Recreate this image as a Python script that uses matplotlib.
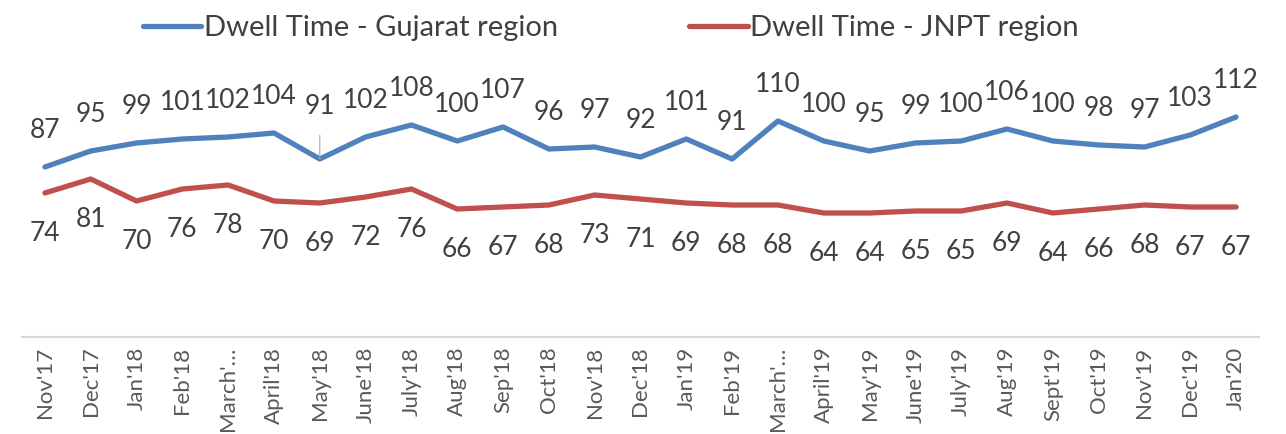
import matplotlib
matplotlib.use("Agg")
import matplotlib.pyplot as plt
import numpy as np

plt.rcParams["font.family"] = ["Lato", "DejaVu Sans"]

months = ["Nov'17", "Dec'17", "Jan'18", "Feb'18", "March'…", "April'18", "May'18",
          "June'18", "July'18", "Aug'18", "Sep'18", "Oct'18", "Nov'18", "Dec'18",
          "Jan'19", "Feb'19", "March'…", "April'19", "May'19", "June'19", "July'19",
          "Aug'19", "Sept'19", "Oct'19", "Nov'19", "Dec'19", "Jan'20"]
gujarat = [87, 95, 99, 101, 102, 104, 91, 102, 108, 100, 107, 96, 97, 92,
           101, 91, 110, 100, 95, 99, 100, 106, 100, 98, 97, 103, 112]
jnpt = [74, 81, 70, 76, 78, 70, 69, 72, 76, 66, 67, 68, 73, 71,
        69, 68, 68, 64, 64, 65, 65, 69, 64, 66, 68, 67, 67]

BLUE = "#4F81BD"
RED = "#C0504D"
TXT = "#404040"

fig = plt.figure(figsize=(12.86, 4.34), dpi=100)
ax = fig.add_axes([22 / 1286, 97 / 434, 1237 / 1286, 280 / 434])

x = np.arange(len(months))
ax.plot(x, gujarat, color=BLUE, lw=3.8, solid_capstyle="round",
        label="Dwell Time - Gujarat region")
ax.plot(x, jnpt, color=RED, lw=3.8, solid_capstyle="round",
        label="Dwell Time - JNPT region")

# data labels; the May'18 label sits higher with a leader line, as in the source
for i, (xi, v) in enumerate(zip(x, gujarat)):
    if months[i] == "May'18":
        ax.annotate(str(v), (xi, v), xytext=(0, 38), textcoords="offset points",
                    ha="center", va="center", fontsize=19, color=TXT,
                    arrowprops=dict(arrowstyle="-", color="#A6A6A6", lw=0.8,
                                    shrinkA=10, shrinkB=0))
    else:
        ax.annotate(str(v), (xi, v), xytext=(0, 26), textcoords="offset points",
                    ha="center", va="center", fontsize=19, color=TXT)
for xi, v in zip(x, jnpt):
    ax.annotate(str(v), (xi, v), xytext=(0, -29), textcoords="offset points",
                ha="center", va="center", fontsize=19, color=TXT)

ax.set_xlim(-0.5, len(months) - 0.5)
ax.set_ylim(2, 142)
ax.set_yticks([])
ax.set_xticks(x)
ax.set_xticklabels(months, rotation=90, fontsize=16, color="#595959")
ax.tick_params(axis="x", length=0, pad=7)
for side in ["top", "left", "right"]:
    ax.spines[side].set_visible(False)
ax.spines["bottom"].set_color("#D9D9D9")
ax.spines["bottom"].set_linewidth(1.5)

fig.legend(loc="upper center", bbox_to_anchor=(0.475, 1.025), ncol=2, frameon=False,
           fontsize=21, handlelength=2.0, handletextpad=0.1, columnspacing=4.5,
           labelcolor=TXT)

fig.savefig("out.png", dpi=100)
